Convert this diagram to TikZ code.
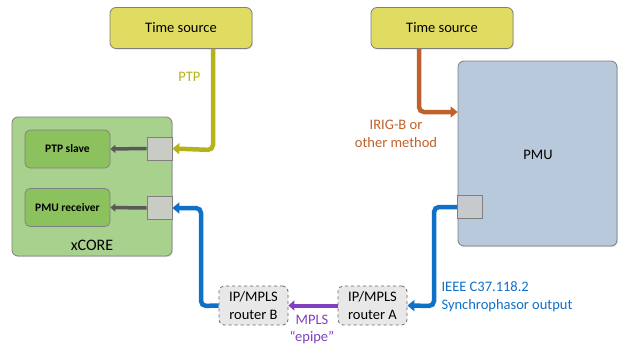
\documentclass[tikz,border=0pt]{standalone}
\usepackage{fontspec}
\setmainfont{Carlito}
\usetikzlibrary{arrows.meta,shadows}
\definecolor{srcfill}{HTML}{E0DC62}
\definecolor{edgegray}{HTML}{7F7F7F}
\definecolor{pmufill}{HTML}{B8C9DB}
\definecolor{corefill}{HTML}{A9D18E}
\definecolor{modfill}{HTML}{8CC25E}
\definecolor{portfill}{HTML}{C9CCC4}
\definecolor{pportfill}{HTML}{C8C9CC}
\definecolor{ptpcol}{HTML}{B5B31A}
\definecolor{irigcol}{HTML}{C0602A}
\definecolor{netcol}{HTML}{0F70C8}
\definecolor{mplscol}{HTML}{8040C0}
\definecolor{routfill}{HTML}{E8E8E8}
\definecolor{routedge}{HTML}{6F6360}
\tikzset{
  box/.style={draw=edgegray, line width=0.8pt, rounded corners=6pt,
    drop shadow={shadow xshift=1pt, shadow yshift=-1pt, opacity=0.25}},
  srcbox/.style={box, fill=srcfill, minimum width=142pt, minimum height=41pt,
    font=\fontsize{14.5}{16}\selectfont},
  modbox/.style={draw=edgegray, line width=0.7pt, rounded corners=5pt, fill=modfill,
    minimum width=85pt, minimum height=38pt, font=\bfseries\fontsize{11.5}{13}\selectfont},
  portbox/.style={draw=edgegray, line width=0.7pt, fill=portfill,
    minimum width=25pt, minimum height=23pt, inner sep=0pt},
  router/.style={draw=routedge, dashed, line width=0.8pt, rounded corners=5pt, fill=routfill,
    minimum width=69pt, minimum height=39pt, align=center, inner sep=0pt,
    font=\fontsize{14.5}{18}\selectfont},
  link/.style={line width=4.5pt, rounded corners=5pt,
    -{Triangle[length=7pt,width=11pt]}},
  inner/.style={line width=3.5pt, draw=black!65, -{Triangle[length=5pt,width=8pt]}},
  lbl/.style={font=\fontsize{14.5}{18}\selectfont, align=center}
}
\begin{document}
\begin{tikzpicture}[x=1pt,y=-1pt]
\useasboundingbox (0,0) rectangle (618,351);

% time sources
\node[srcbox] (tsl) at (181,28) {Time source};
\node[srcbox] (tsr) at (442,28) {Time source};

% PMU and its output port
\node[box, fill=pmufill, minimum width=159pt, minimum height=185pt] (pmu) at (537.5,153.5) {};
\node[font=\fontsize{14.5}{16}\selectfont] at (538,155) {PMU};
\node[portbox, fill=pportfill] (pport) at (470,207) {};

% xCORE
\node[box, fill=corefill, minimum width=160pt, minimum height=139pt] (core) at (92,186.5) {};
\node[font=\fontsize{16}{18}\selectfont] at (92,245) {xCORE};
\node[modbox] (ptps) at (67.5,149) {PTP slave};
\node[modbox] (pmur) at (67.5,207.5) {PMU receiver};
\node[portbox] (p1) at (159.5,148.5) {};
\node[portbox] (p2) at (159.5,208) {};
\draw[inner] (p1.west) -- (ptps.east);
\draw[inner] (p2.west) -- (pmur.east);

% routers
\node[router] (ra) at (372.5,305.5) {IP/MPLS\\router A};
\node[router] (rb) at (253.5,305.5) {IP/MPLS\\router B};

% connectors
\draw[link, draw=ptpcol] (tsl.south -| 213,0) -- (213,150) -- (p1.east);
\draw[link, draw=irigcol] (tsr.south -| 419,0) -- (419,112) -- (pmu.west |- 0,112);
\draw[link, draw=netcol] (pport.west) -- (434,207) -- (434,306) -- (ra.east);
\draw[line width=4pt, draw=mplscol, -{Triangle[length=6pt,width=10pt]}] (ra.west) -- (rb.east);
\draw[link, draw=netcol] (rb.west) -- (201,306) -- (201,208) -- (p2.east);

% labels
\node[lbl, text=ptpcol, anchor=east] at (204,77) {PTP};
\node[lbl, text=irigcol] at (396,134) {IRIG-B or\\other method};
\node[lbl, text=netcol, align=left, anchor=west] at (438,297) {IEEE C37.118.2\\Synchrophasor output};
\node[lbl, text=mplscol, font=\fontsize{14.5}{17}\selectfont] at (312,329) {MPLS\\“epipe”};
\end{tikzpicture}
\end{document}
